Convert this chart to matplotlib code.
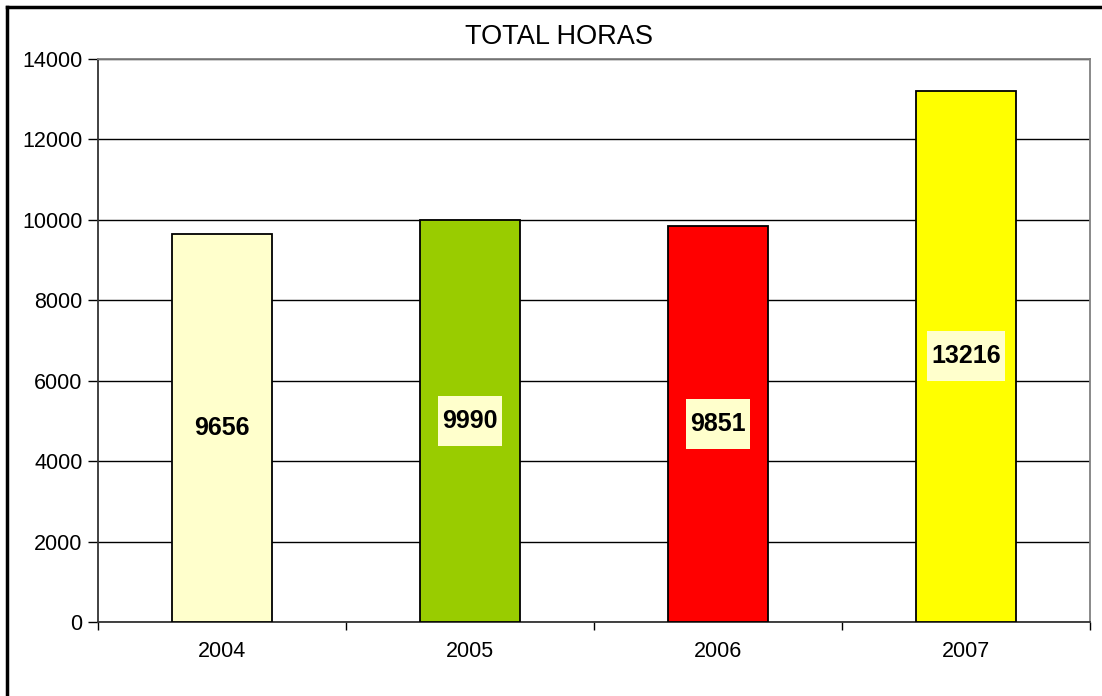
import numpy as np
import matplotlib
matplotlib.use("Agg")
import matplotlib.pyplot as plt
from matplotlib.lines import Line2D
from matplotlib.patches import Rectangle

plt.rcParams['font.family'] = ['Liberation Sans', 'DejaVu Sans']

# data
years = ["2004", "2005", "2006", "2007"]
horas = [9656, 9990, 9851, 13216]
colores = ["#FFFFCC", "#99CC00", "#FF0000", "#FFFF00"]
yticks = [0, 2000, 4000, 6000, 8000, 10000, 12000, 14000]

fig = plt.figure(figsize=(11.02, 6.96), dpi=100)
W, H = 1102, 696
# plot area in pixels: left 98, right 1090, top 59, bottom 622
ax = fig.add_axes([98 / W, 1 - 622 / H, (1090 - 98) / W, (622 - 59) / H])

x = np.arange(len(years))
bars = ax.bar(x, horas, width=0.403, color=colores, edgecolor="black",
              linewidth=1.3, zorder=3)

labels = []
for xi, v in zip(x, horas):
    t = ax.text(xi, v / 2, str(v), ha="center", va="center", fontsize=18,
                fontweight="bold", zorder=5)
    labels.append(t)

ax.set_xlim(-0.5, len(years) - 0.5)
ax.set_ylim(0, 14000)
ax.set_yticks(yticks)
ax.set_yticklabels([str(t) for t in yticks], fontsize=15.5)
ax.yaxis.grid(True, color="black", linewidth=1.0, zorder=0)
ax.set_axisbelow(True)

# year labels in the middle, tick marks at the category boundaries
ax.set_xticks(x)
ax.set_xticklabels(years, fontsize=15.5)
ax.tick_params(axis="x", length=0, pad=14)
ax.set_xticks(np.arange(-0.5, len(years)), minor=True)
ax.tick_params(axis="x", which="minor", length=6, width=1, direction="out")
ax.tick_params(axis="y", length=7, width=1, direction="out", pad=4)

ax.spines["left"].set_color("#333333")
ax.spines["bottom"].set_color("#333333")
ax.spines["top"].set_color("#808080")
ax.spines["right"].set_color("#808080")
for s in ax.spines.values():
    s.set_linewidth(1.3)

fig.text(559 / W, 1 - 37 / H, "TOTAL HORAS", ha="center", va="center",
         fontsize=19.5)

# label boxes: a bit wider than the text, much taller
fig.canvas.draw()
r = fig.canvas.get_renderer()
inv = ax.transData.inverted()
for t in labels:
    bb = t.get_window_extent(renderer=r)
    (x0, _), (x1, _) = inv.transform([(bb.x0 - 4, 0), (bb.x1 + 4, 0)])
    xc, yc = t.get_position()
    yc_px = ax.transData.transform((xc, yc))[1]
    (_, y0), (_, y1) = inv.transform([(0, yc_px - 25), (0, yc_px + 25)])
    ax.add_patch(Rectangle((x0, y0), x1 - x0, y1 - y0, fc="#FFFFCC",
                           ec="none", zorder=4))

# outer chart frame (only top and left visible in the picture)
fig.add_artist(Line2D([7 / W, 1], [1 - 7 / H, 1 - 7 / H], color="black",
                      linewidth=2.5, transform=fig.transFigure))
fig.add_artist(Line2D([7 / W, 7 / W], [0, 1 - 7 / H], color="black",
                      linewidth=2.5, transform=fig.transFigure))

fig.savefig("out.png", dpi=100)
